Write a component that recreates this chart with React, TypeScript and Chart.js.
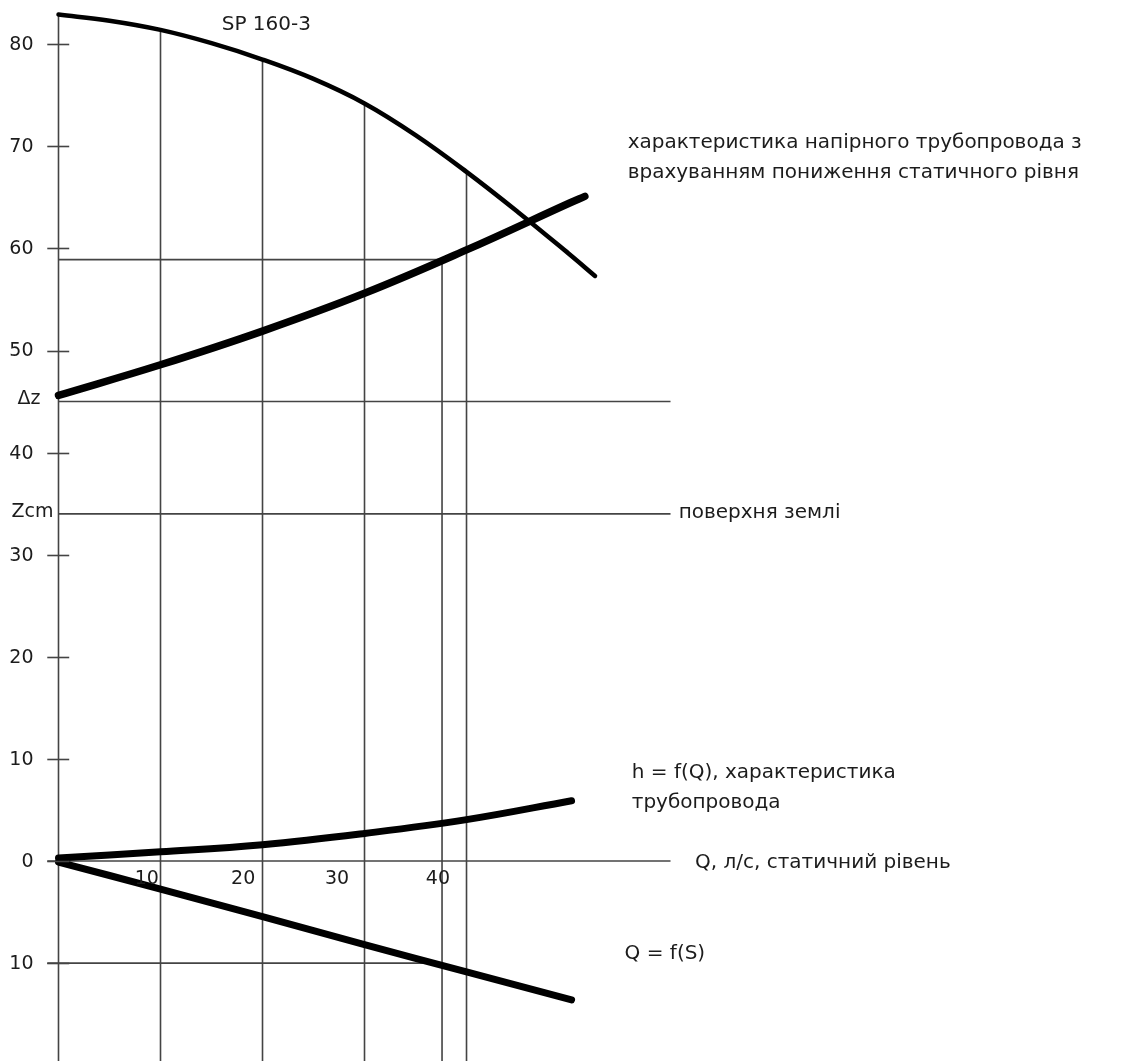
import { useEffect, useRef } from "react";
import { Chart, registerables } from "chart.js";

Chart.register(...registerables);

// ---- axis ticks / labels ----
const Y_TICK_VALUES = [80, 70, 60, 50, 40, 30, 20, 10, 0, -10];
const Y_TICK_LABELS = ["80", "70", "60", "50", "40", "30", "20", "10", "0", "10"];
const LEVEL_VALUES = [45, 34];
const LEVEL_LABELS = ["Δz", "Zcm"];
const X_TICK_LABELS = ["10", "20", "30", "40"];
const X_TICK_LABEL_AT = [8.65, 18.1, 27.3, 37.2];
const Q_GRID = [10, 20, 30, 40];

// ---- pump curve SP 160-3 ----
const PUMP_Q = [0, 5, 10, 15, 20, 25, 30, 35, 40, 45, 50, 52.6];
const PUMP_H = [82.9, 82.3, 81.4, 80.1, 78.5, 76.6, 74.2, 71.1, 67.5, 63.6, 59.5, 57.3];

// ---- pressure pipeline characteristic (with static level drawdown) ----
const PIPE_Q = [0, 10, 20, 30, 40, 50, 51.6];
const PIPE_H = [45.6, 48.6, 51.9, 55.6, 59.85, 64.4, 65.1];

// ---- h = f(Q) pipeline losses ----
const HF_Q = [0, 10, 20, 30, 40, 50.3];
const HF_H = [0.3, 0.9, 1.6, 2.7, 4.05, 5.9];

// ---- Q = f(S) drawdown ----
const QS_Q = [0, 10, 20, 30, 40, 50.3];
const QS_S = [-0.1, -2.75, -5.45, -8.2, -10.85, -13.6];

// ---- operating point and levels ----
const OP_Q = 37.6;
const OP_H = 58.9;
const DZ_LEVEL = 45;
const ZCM_LEVEL = 34;
const BELOW_LEVEL = -10;
const LINE_END_Q = 60;
const TICK_FROM_Q = -1.1;
const TICK_TO_Q = 1.05;

// ---- annotations ----
const NOTE_TEXTS = [
  ["SP 160-3"],
  ["характеристика напірного трубопровода з", "врахуванням пониження статичного рівня"],
  ["поверхня землі"],
  ["h = f(Q), характеристика", "трубопровода"],
  ["Q, л/с, статичний рівень"],
  ["Q = f(S)"],
];
const NOTE_Q = [16.0, 55.8, 60.8, 56.2, 62.4, 55.5];
const NOTE_H = [81.4, 69.8, 33.6, 8.1, -0.7, -9.6];

const X_MIN = -5.735;
const X_MAX = 106.81;
const Y_MIN = -19.59;
const Y_MAX = 84.33;

const W = 1148;
const H = 1061;

const zip = (xs: number[], ys: number[]) => xs.map((x, i) => ({ x, y: ys[i] }));

const THIN = "#444444";
const INK = "#000000";
const TEXT = "#1c1c1c";
const FONT = '"DejaVu Sans", "Noto Sans", sans-serif';

function thin(label: string, data: { x: number; y: number }[]) {
  return {
    label,
    data,
    showLine: true,
    borderColor: THIN,
    borderWidth: 1.6,
    pointRadius: 0,
    tension: 0,
    fill: false,
  };
}

function thick(label: string, data: { x: number; y: number }[], width: number) {
  return {
    label,
    data,
    showLine: true,
    borderColor: INK,
    borderWidth: width,
    borderCapStyle: "round",
    borderJoinStyle: "round",
    pointRadius: 0,
    tension: 0.4,
    fill: false,
  };
}

const textPlugin = {
  id: "drawingText",
  afterDatasetsDraw(chart: any) {
    const ctx = chart.ctx as CanvasRenderingContext2D;
    const xs = chart.scales.x;
    const ys = chart.scales.y;
    const ax = xs.getPixelForValue(0);
    ctx.save();
    // tick crosses on the vertical axis
    ctx.strokeStyle = THIN;
    ctx.lineWidth = 1.6;
    Y_TICK_VALUES.forEach((v) => {
      const py = Math.round(ys.getPixelForValue(v)) + 0.5;
      ctx.beginPath();
      ctx.moveTo(xs.getPixelForValue(TICK_FROM_Q), py);
      ctx.lineTo(xs.getPixelForValue(TICK_TO_Q), py);
      ctx.stroke();
    });
    ctx.fillStyle = TEXT;
    // y tick labels
    ctx.font = `19px ${FONT}`;
    ctx.textAlign = "right";
    ctx.textBaseline = "middle";
    Y_TICK_VALUES.forEach((v, i) => {
      ctx.fillText(Y_TICK_LABELS[i], ax - 25, ys.getPixelForValue(v) + 1);
    });
    // level labels
    ctx.font = `19px ${FONT}`;
    ctx.textAlign = "right";
    LEVEL_VALUES.forEach((v, i) => {
      ctx.fillText(LEVEL_LABELS[i], ax - (i === 0 ? 18 : 5), ys.getPixelForValue(v) - 2);
    });
    // x tick labels
    ctx.font = `19px ${FONT}`;
    ctx.textAlign = "center";
    X_TICK_LABELS.forEach((t, i) => {
      ctx.fillText(t, xs.getPixelForValue(X_TICK_LABEL_AT[i]), ys.getPixelForValue(0) + 18);
    });
    // annotations
    ctx.font = `20px ${FONT}`;
    ctx.textAlign = "left";
    ctx.textBaseline = "alphabetic";
    NOTE_TEXTS.forEach((lines, i) => {
      const px = xs.getPixelForValue(NOTE_Q[i]);
      const py = ys.getPixelForValue(NOTE_H[i]);
      lines.forEach((line, j) => ctx.fillText(line, px, py + j * 29.5));
    });
    ctx.restore();
  },
};

export default function App() {
  const ref = useRef<HTMLCanvasElement | null>(null);

  useEffect(() => {
    if (!ref.current) return;
    const gridLines = Q_GRID.map((q) =>
      thin(`Q=${q}`, [
        { x: q, y: PUMP_H[PUMP_Q.indexOf(q)] },
        { x: q, y: Y_MIN },
      ])
    );
    const chart = new Chart(ref.current, {
      type: "scatter",
      data: {
        datasets: [
          thick("SP 160-3", zip(PUMP_Q, PUMP_H), 4.5),
          thick("характеристика напірного трубопровода", zip(PIPE_Q, PIPE_H), 7.5),
          thick("h = f(Q)", zip(HF_Q, HF_H), 7),
          thick("Q = f(S)", zip(QS_Q, QS_S), 7),
          thin("axis", [
            { x: 0, y: PUMP_H[0] },
            { x: 0, y: Y_MIN },
          ]),
          ...gridLines,
          thin("operating point", [
            { x: 0, y: OP_H },
            { x: OP_Q, y: OP_H },
            { x: OP_Q, y: Y_MIN },
          ]),
          thin("Δz", [
            { x: 0, y: DZ_LEVEL },
            { x: LINE_END_Q, y: DZ_LEVEL },
          ]),
          thin("Zcm", [
            { x: 0, y: ZCM_LEVEL },
            { x: LINE_END_Q, y: ZCM_LEVEL },
          ]),
          thin("Q axis", [
            { x: TICK_FROM_Q, y: 0 },
            { x: LINE_END_Q, y: 0 },
          ]),
          thin("S=10", [
            { x: TICK_FROM_Q, y: BELOW_LEVEL },
            { x: OP_Q, y: BELOW_LEVEL },
          ]),
        ] as any,
      },
      options: {
        animation: false,
        responsive: false,
        layout: { padding: 0 },
        plugins: {
          legend: { display: false },
          tooltip: { enabled: false },
        },
        scales: {
          x: { type: "linear", display: false, min: X_MIN, max: X_MAX },
          y: { type: "linear", display: false, min: Y_MIN, max: Y_MAX },
        },
      },
      plugins: [textPlugin],
    });
    return () => chart.destroy();
  }, []);

  return (
    <div style={{ position: "absolute", left: 0, top: 0, width: W, height: H, background: "#fff" }}>
      <canvas ref={ref} width={W} height={H} />
    </div>
  );
}
